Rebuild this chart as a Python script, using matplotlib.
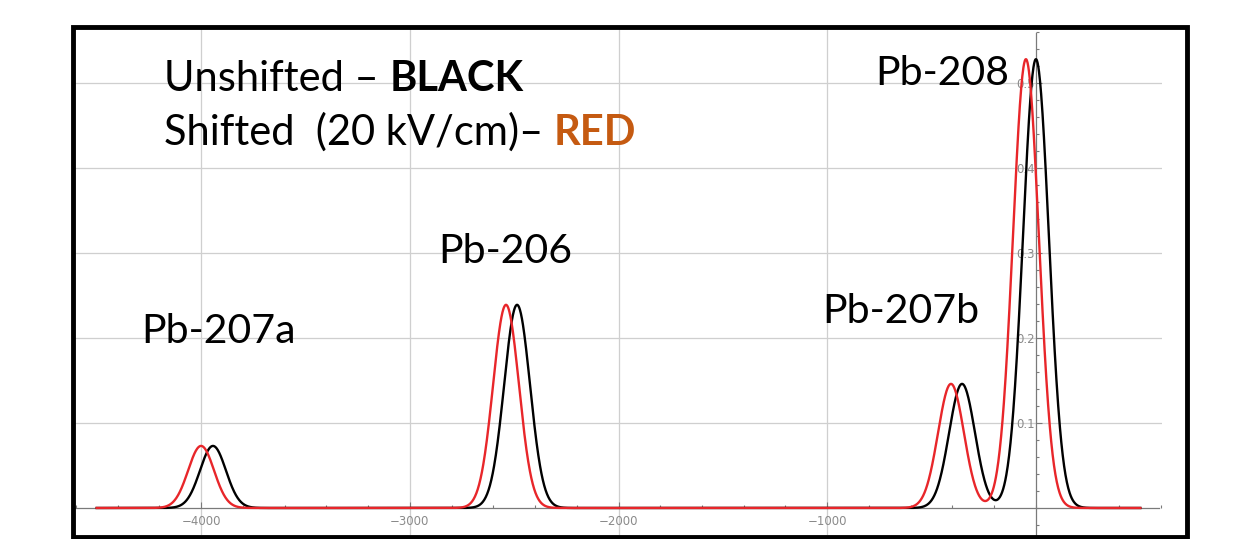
import numpy as np
import matplotlib
matplotlib.use('Agg')
import matplotlib.pyplot as plt
import matplotlib.patches as patches
from matplotlib.ticker import MultipleLocator

# peak data (centre, height) -- same width for all peaks
isotopes = ['Pb-207a', 'Pb-206', 'Pb-207b', 'Pb-208']
unshifted_pos = [-3943, -2486, -354, 0]
shifted_pos = [-4000, -2539, -407, -48]
peak_height = [0.073, 0.239, 0.146, 0.528]
peak_sigma = 62

x_ticks = [-4000, -3000, -2000, -1000]
y_ticks = [0.1, 0.2, 0.3, 0.4, 0.5]

# label positions in pixels (left, baseline)
label_px = [(141, 343), (438, 263), (822, 323), (875, 85)]

W, H = 1238, 539
fig = plt.figure(figsize=(W / 100, H / 100), dpi=100)
fig.patch.set_facecolor('white')

# axes box in pixels
L, R, T, B = 75, 1162, 29, 535
ax = fig.add_axes([L / W, 1 - B / H, (R - L) / W, (B - T) / H])
ax.set_xlim(-4604, 604)
ax.set_ylim(-0.0318, 0.5635)
ax.set_facecolor('none')

xs = np.linspace(-4500, 500, 3000)
def spectrum(centres):
    ys = np.zeros_like(xs)
    for c, h in zip(centres, peak_height):
        ys += h * np.exp(-(xs - c) ** 2 / (2 * peak_sigma ** 2))
    return ys

ax.plot(xs, spectrum(unshifted_pos), color='black', lw=1.7, zorder=3)
ax.plot(xs, spectrum(shifted_pos), color='#e8262a', lw=1.7, zorder=4)

# mathematica style axes through the origin
for s in ['top', 'right']:
    ax.spines[s].set_visible(False)
ax.spines['left'].set_position(('data', 0))
ax.spines['bottom'].set_position(('data', 0))
ax.spines['bottom'].set_bounds(-4604, 592)
ax.spines['left'].set_bounds(-0.04, 0.559)
for s in ['left', 'bottom']:
    ax.spines[s].set_color('#7a7a7a')
    ax.spines[s].set_linewidth(0.9)

ax.set_xticks(x_ticks)
ax.set_yticks(y_ticks)
ax.xaxis.set_minor_locator(MultipleLocator(200))
ax.yaxis.set_minor_locator(MultipleLocator(0.02))
ax.tick_params(which='both', direction='in', color='#7a7a7a', width=0.8)
ax.tick_params(which='major', length=4, labelsize=8.5, labelcolor='#8a8a8a')
ax.tick_params(which='minor', length=2.5)
ax.tick_params(axis='x', pad=5)
ax.tick_params(axis='y', pad=1)

ax.grid(True, which='major', color='#cfcfcf', lw=0.9)
ax.set_axisbelow(True)

# black frame around the picture
frame = patches.Rectangle((73 / W, 1 - 537 / H), (1187 - 73) / W, (537 - 27) / H,
                          transform=fig.transFigure, fill=False,
                          edgecolor='black', lw=3.5, clip_on=False)
fig.patches.append(frame)

fs = 29.5
fam = 'Lato'
for name, (px, py) in zip(isotopes, label_px):
    fig.text(px / W, 1 - py / H, name, fontsize=fs, family=fam,
             va='baseline', ha='left')

renderer = fig.canvas.get_renderer()
def rich_line(px, py, parts, size):
    x = px / W
    for txt, weight, col in parts:
        t = fig.text(x, 1 - py / H, txt, fontsize=size, family=fam,
                     fontweight=weight, color=col, va='baseline', ha='left')
        bb = t.get_window_extent(renderer=renderer)
        x = bb.x1 / W

rich_line(164, 91, [('Unshifted \u2013 ', 'normal', 'black'),
                    ('BLACK', 'bold', 'black')], 30)
rich_line(164, 145, [('Shifted  (20 kV/cm)\u2013 ', 'normal', 'black'),
                     ('RED', 'bold', '#c55a11')], 30)

fig.savefig('out.png', dpi=100)
